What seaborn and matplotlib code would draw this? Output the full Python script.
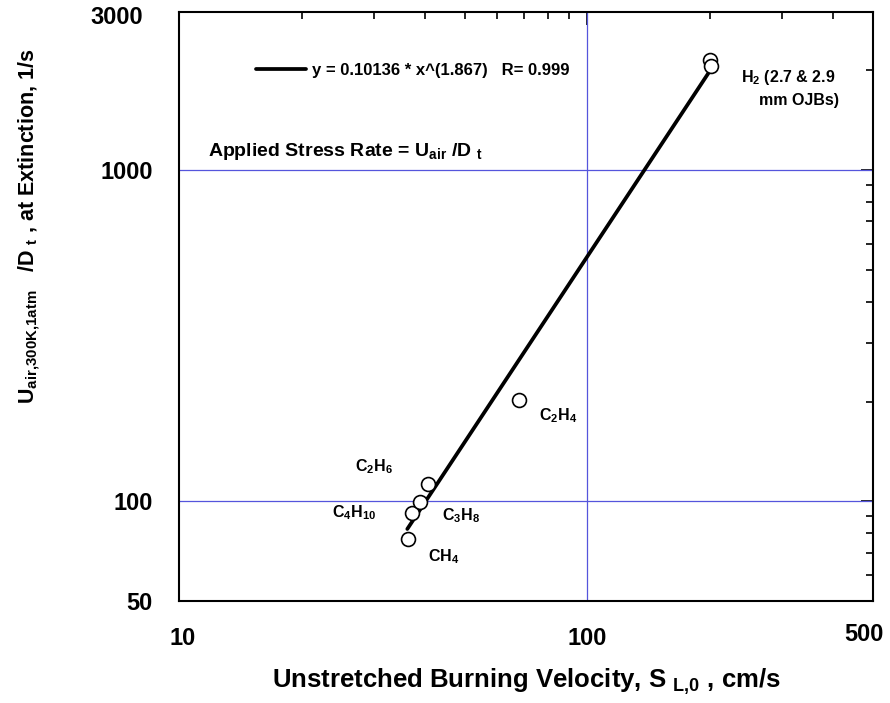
import matplotlib
matplotlib.use("Agg")
import matplotlib.pyplot as plt
import matplotlib.transforms as mtransforms
import numpy as np
import pandas as pd
import seaborn as sns
from matplotlib.ticker import FixedLocator, NullFormatter

# Extinction stress rate vs. unstretched laminar burning velocity
fuels = ["CH$_4$", "C$_4$H$_{10}$", "C$_3$H$_8$", "C$_2$H$_6$", "C$_2$H$_4$", "H$_2$", "H$_2$"]
burning_velocity = [36.4, 37.2, 38.9, 40.7, 68.0, 199.5, 200.5]      # cm/s
extinction_rate = [77.0, 92.5, 99.5, 112.5, 202.0, 2150.0, 2060.0]    # 1/s

# Power-law fit  y = a * x^b
fit_a = 0.10136
fit_b = 1.867
fit_r = 0.999

x_ticks = [10, 100, 500]
x_minor = [20, 30, 40, 50, 60, 70, 80, 90, 200, 300, 400]
y_ticks = [50, 100, 1000, 3000]
y_minor = [60, 70, 80, 90, 200, 300, 400, 500, 600, 700, 800, 900, 2000]

sns.set_theme(style="white")
plt.rcParams["font.family"] = ["Liberation Sans", "DejaVu Sans"]
plt.rcParams["font.weight"] = "bold"
plt.rcParams["text.color"] = "black"
plt.rcParams["axes.labelcolor"] = "black"
plt.rcParams["xtick.color"] = "black"
plt.rcParams["ytick.color"] = "black"
plt.rcParams["mathtext.fontset"] = "custom"
plt.rcParams["mathtext.rm"] = "Liberation Sans:bold"
plt.rcParams["mathtext.it"] = "Liberation Sans:bold"
plt.rcParams["mathtext.bf"] = "Liberation Sans:bold"
plt.rcParams["mathtext.default"] = "rm"

df = pd.DataFrame({"fuel": fuels, "S_L0": burning_velocity, "K_ext": extinction_rate})
x_fit = np.geomspace(min(burning_velocity) * 0.995, max(burning_velocity), 100)
fit_df = pd.DataFrame({"S_L0": x_fit, "K_ext": fit_a * x_fit ** fit_b})

fig = plt.figure(figsize=(8.9, 7.03), dpi=100)
ax = fig.add_axes([179 / 890, (703 - 601) / 703, (873 - 179) / 890, (601 - 12) / 703])
ax.set_xscale("log")
ax.set_yscale("log")
ax.set_xlim(10, 500)
ax.set_ylim(50, 3000)

grid_kw = dict(color="#5555dc", lw=0.9, zorder=1)
ax.axvline(100, **grid_kw)
ax.axhline(100, **grid_kw)
ax.axhline(1000, **grid_kw)

sns.lineplot(data=fit_df, x="S_L0", y="K_ext", ax=ax, color="black", lw=2.7,
             label=f"y = {fit_a} * x^({fit_b})   R= {fit_r}", zorder=3)
sns.scatterplot(data=df, x="S_L0", y="K_ext", ax=ax, marker="o", s=100,
                facecolor="white", edgecolor="black", linewidth=1.2, zorder=4, legend=False)

# fuel labels
lab_kw = dict(fontsize=11.5, fontweight="bold", color="black")
offsets = {
    0: (14, -13, "left"),
    1: (-26, 0, "right"),
    2: (16, -10, "left"),
    3: (-25, 13, "right"),
    4: (14, -11, "left"),
}
for i, (dx, dy, ha) in offsets.items():
    ax.annotate(fuels[i], (burning_velocity[i], extinction_rate[i]), xytext=(dx, dy),
                textcoords="offset points", ha=ha, va="center", **lab_kw)
ax.annotate("H$_2$ (2.7 & 2.9", (burning_velocity[5], extinction_rate[5]), xytext=(22, -13),
            textcoords="offset points", ha="left", va="center", **lab_kw)
ax.annotate("mm OJBs)", (burning_velocity[5], extinction_rate[5]), xytext=(35, -29),
            textcoords="offset points", ha="left", va="center", **lab_kw)

ax.text(208 / 890, 1 - 152 / 703, "Applied Stress Rate = U$_{air}$ /D $_t$",
        transform=fig.transFigure, fontsize=14, fontweight="bold", va="center", ha="left")

leg = ax.legend(loc="center left", bbox_to_anchor=(256 / 890, 1 - 70 / 703),
                bbox_transform=fig.transFigure, frameon=False, fontsize=12,
                handlelength=3.0, handletextpad=0.35, borderpad=0, borderaxespad=0)
for t in leg.get_texts():
    t.set_fontweight("bold")

# axes, ticks
for sp in ax.spines.values():
    sp.set_color("black")
    sp.set_linewidth(1.5)
ax.xaxis.set_major_locator(FixedLocator(x_ticks))
ax.xaxis.set_minor_locator(FixedLocator(x_minor))
ax.yaxis.set_major_locator(FixedLocator(y_ticks))
ax.yaxis.set_minor_locator(FixedLocator(y_minor))
ax.set_xticklabels([str(v) for v in x_ticks])
ax.set_yticklabels([str(v) for v in y_ticks])
ax.xaxis.set_minor_formatter(NullFormatter())
ax.yaxis.set_minor_formatter(NullFormatter())
ax.tick_params(which="both", direction="in", top=True, right=True, color="black", width=1.2)
ax.tick_params(which="major", length=9, labelsize=17, pad=19)
ax.tick_params(which="minor", length=5)
for lbl in ax.get_xticklabels() + ax.get_yticklabels():
    lbl.set_fontweight("bold")

# edge tick labels pulled inward so they stay on the canvas
xl = ax.get_xticklabels()
xl[0].set_transform(xl[0].get_transform() +
                    mtransforms.ScaledTranslation(4 / 100, 0, fig.dpi_scale_trans))
xl[-1].set_transform(xl[-1].get_transform() +
                     mtransforms.ScaledTranslation(-9 / 100, 4 / 100, fig.dpi_scale_trans))
yl = ax.get_yticklabels()
yl[-1].set_transform(yl[-1].get_transform() +
                     mtransforms.ScaledTranslation(-10 / 100, -3 / 100, fig.dpi_scale_trans))

ax.set_xlabel("Unstretched Burning Velocity, S $_{L{,}0}$ , cm/s", fontsize=18.5,
              fontweight="bold", labelpad=12)
ax.set_ylabel("")
fig.text(29 / 890, 1 - 226 / 703, "U$_{air{,}300K{,}1atm}$   /D $_t$ , at Extinction, 1/s",
         rotation=90, fontsize=15.5, fontweight="bold", ha="center", va="center")

fig.savefig("out.png", dpi=100)
